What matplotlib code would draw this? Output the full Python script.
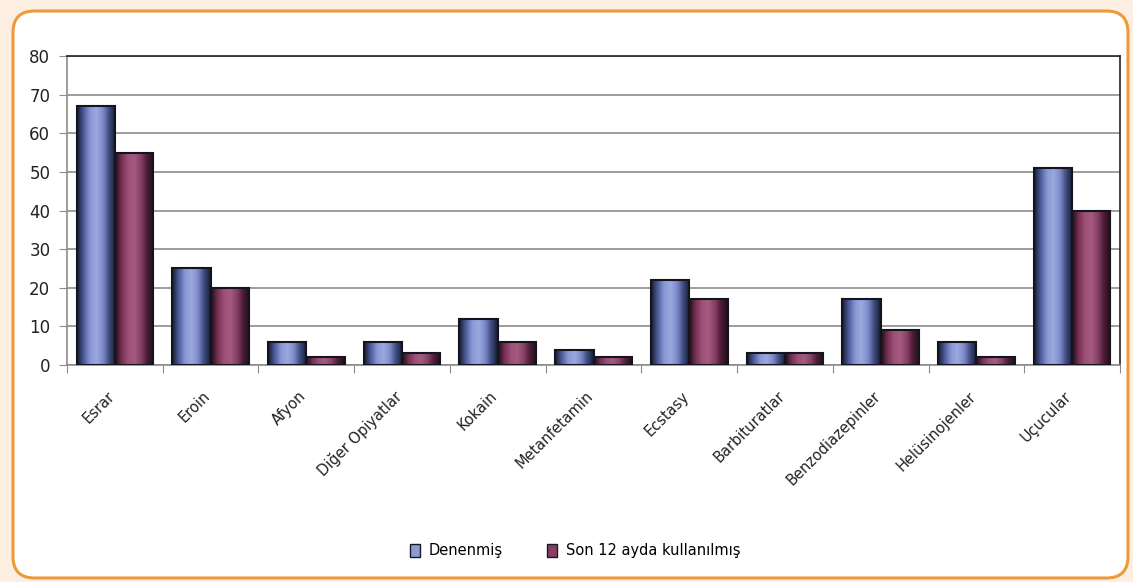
import numpy as np
import matplotlib.pyplot as plt
import matplotlib.transforms as mtransforms
from matplotlib.colors import LinearSegmentedColormap
from matplotlib.patches import FancyBboxPatch, Rectangle

# veriler
kategoriler = ['Esrar', 'Eroin', 'Afyon', 'Diğer Opiyatlar', 'Kokain', 'Metanfetamin',
               'Ecstasy', 'Barbituratlar', 'Benzodiazepinler', 'Helüsinojenler', 'Uçucular']
denenmis = [67, 25, 6, 6, 12, 4, 22, 3, 17, 6, 51]
son12ay = [55, 20, 2, 3, 6, 2, 17, 3, 9, 2, 40]
seri_adlari = ['Denenmiş', 'Son 12 ayda kullanılmış']

plt.rcParams['font.family'] = ['DejaVu Sans']

fig = plt.figure(figsize=(11.33, 5.82), dpi=100)
fig.patch.set_facecolor('#fcefe2')

# yuvarlak köşeli çerçeve
cerceve = FancyBboxPatch((13 / 1133, 4 / 582), 1115 / 1133, 567 / 582,
                         boxstyle='round,pad=0,rounding_size=0.019',
                         transform=fig.transFigure, facecolor='white',
                         edgecolor='#eb9a3c', linewidth=2.2, mutation_aspect=1133 / 582,
                         zorder=-5)
fig.patches.append(cerceve)

ax = fig.add_axes([67 / 1133, 1 - 365 / 582, 1053 / 1133, 309 / 582])
ax.set_facecolor('none')

mavi = LinearSegmentedColormap.from_list('mavi', ['#161b2c', '#4d5c9c', '#8896d4', '#9ea9e0',
                                                  '#7d8bca', '#3f4b80', '#161b2c'])
mor = LinearSegmentedColormap.from_list('mor', ['#240c1a', '#763254', '#9e5078', '#a65a80',
                                                '#874066', '#4a1c34', '#240c1a'])
grad = np.linspace(0, 1, 64).reshape(1, -1)

x = np.arange(len(kategoriler))
w = 0.4
for vals, cmap, off in [(denenmis, mavi, -w / 2), (son12ay, mor, w / 2)]:
    for xi, v in zip(x, vals):
        x0 = xi + off - w / 2
        ax.imshow(grad, extent=[x0, x0 + w, 0, v], cmap=cmap, aspect='auto', zorder=2,
                  interpolation='bicubic')
        ax.add_patch(Rectangle((x0, 0), w, v, fill=False, edgecolor='#12151f',
                               linewidth=1.5, zorder=3))

ax.set_xlim(-0.5, len(kategoriler) - 0.5)
ax.set_ylim(0, 80)
ax.set_yticks(range(0, 81, 10))
ax.yaxis.grid(True, color='#8c8c8c', linewidth=1.2)
ax.set_axisbelow(True)

ax.set_xticks(np.arange(-0.5, len(kategoriler)), minor=False)
ax.set_xticklabels([])
ax.set_xticks(x, minor=True)
ax.set_xticklabels(kategoriler, minor=True, rotation=45, ha='right', va='top',
                   rotation_mode='anchor', fontsize=10.5, color='#222222')
ax.tick_params(axis='x', which='minor', length=0, pad=17)
ax.tick_params(axis='x', which='major', length=6, color='#8c8c8c', direction='out')
ax.tick_params(axis='y', length=6, color='#8c8c8c', labelsize=12, labelcolor='#222222', pad=6)
kaydir = mtransforms.ScaledTranslation(-8 / 100, 0, fig.dpi_scale_trans)
for lbl in ax.get_xticklabels(minor=True):
    lbl.set_transform(lbl.get_transform() + kaydir)

for s in ['left', 'bottom']:
    ax.spines[s].set_color('#8c8c8c')
    ax.spines[s].set_linewidth(1.2)
for s in ['top', 'right']:
    ax.spines[s].set_color('#222222')
    ax.spines[s].set_linewidth(1.2)

# gösterge
hx = [Rectangle((0, 0), 1, 1, facecolor='#8d9ad6', edgecolor='#161a26'),
      Rectangle((0, 0), 1, 1, facecolor='#8a3d64', edgecolor='#161a26')]
fig.legend(hx, seri_adlari, loc='center', bbox_to_anchor=(575 / 1133, 1 - 551 / 582),
           ncol=2, frameon=False, fontsize=10.5, handlelength=0.7, handleheight=0.9,
           columnspacing=3, handletextpad=0.6)

fig.savefig('out.png', dpi=100, facecolor=fig.get_facecolor())
